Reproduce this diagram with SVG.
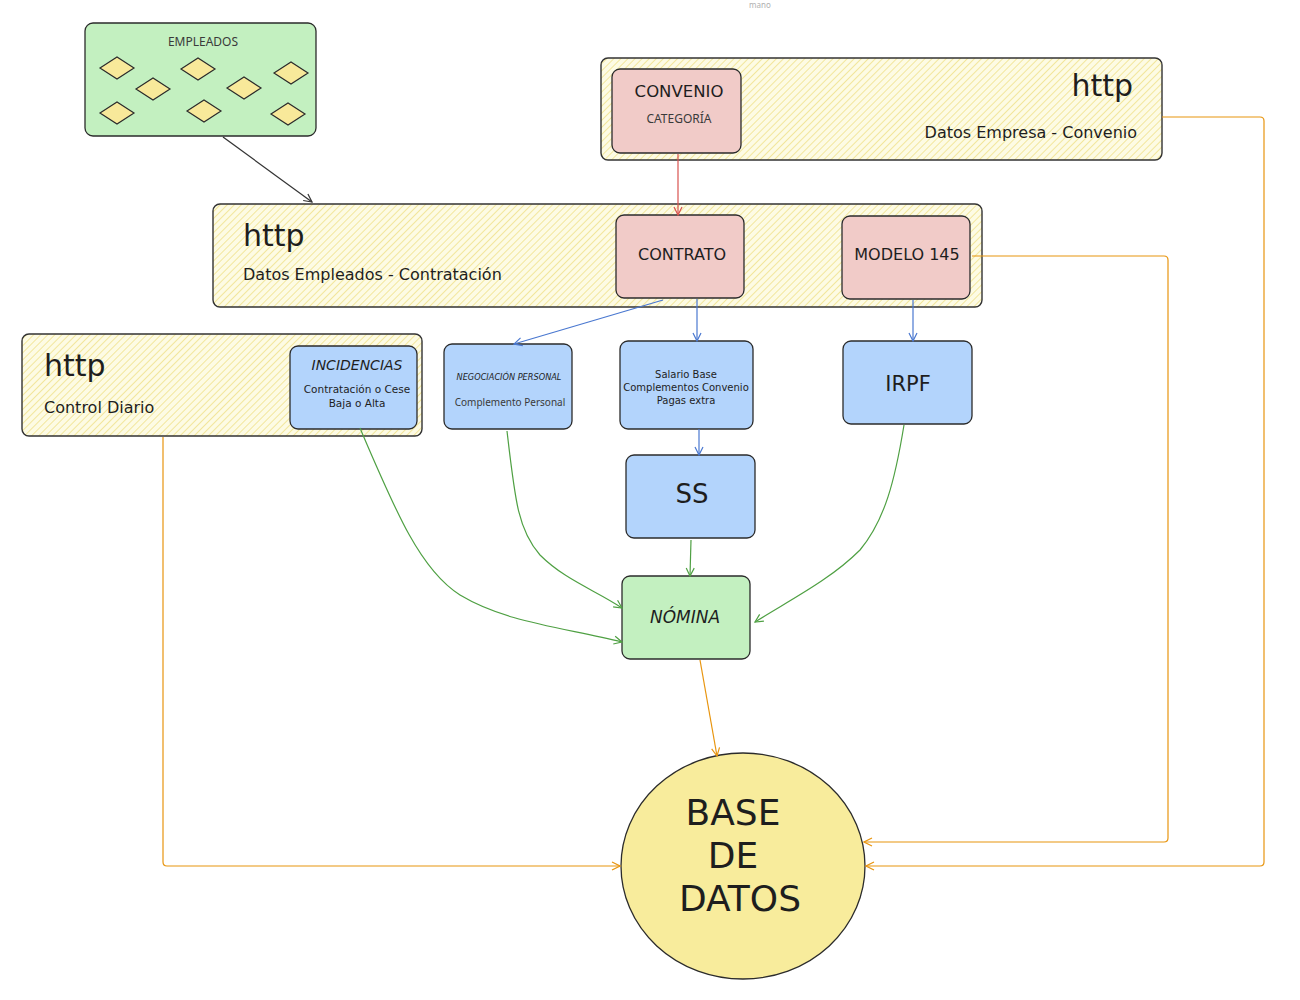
<svg xmlns="http://www.w3.org/2000/svg" width="1300" height="1000" viewBox="0 0 1300 1000">
<style>
.hand{font-family:"DejaVu Sans","Liberation Sans",sans-serif;fill:#1e1e1e}
.sans{font-family:"Noto Sans","Liberation Sans",sans-serif;fill:#3a3a3a}
.box{stroke:#2b2b2b;stroke-width:1.3}
.cont{fill:url(#hatch);stroke:#333;stroke-width:1.4}
.pink{fill:#f1cbc8}
.blue{fill:#b3d4fc}
.green{fill:#c3f0c0}
.dia{fill:#f8e99a;stroke:#2b2b2b;stroke-width:1.2}
.c{fill:none;stroke-width:1.2}
</style>
<defs>
<pattern id="hatch" patternUnits="userSpaceOnUse" width="5" height="5" patternTransform="rotate(45)">
<rect width="5" height="5" fill="#fdfbe4"/>
<line x1="0" y1="0" x2="0" y2="5" stroke="#f2e69c" stroke-width="2"/>
</pattern>
<marker id="aK" viewBox="0 0 10 10" refX="9" refY="5" markerWidth="10" markerHeight="10" orient="auto" markerUnits="userSpaceOnUse"><path d="M1,1 L9,5 L1,9" fill="none" stroke="#333" stroke-width="1.2"/></marker>
<marker id="aR" viewBox="0 0 10 10" refX="9" refY="5" markerWidth="10" markerHeight="10" orient="auto" markerUnits="userSpaceOnUse"><path d="M1,1 L9,5 L1,9" fill="none" stroke="#d9534f" stroke-width="1.2"/></marker>
<marker id="aB" viewBox="0 0 10 10" refX="9" refY="5" markerWidth="10" markerHeight="10" orient="auto" markerUnits="userSpaceOnUse"><path d="M1,1 L9,5 L1,9" fill="none" stroke="#4a78d0" stroke-width="1.2"/></marker>
<marker id="aG" viewBox="0 0 10 10" refX="9" refY="5" markerWidth="10" markerHeight="10" orient="auto" markerUnits="userSpaceOnUse"><path d="M1,1 L9,5 L1,9" fill="none" stroke="#4fa043" stroke-width="1.2"/></marker>
<marker id="aO" viewBox="0 0 10 10" refX="9" refY="5" markerWidth="10" markerHeight="10" orient="auto" markerUnits="userSpaceOnUse"><path d="M1,1 L9,5 L1,9" fill="none" stroke="#e8950f" stroke-width="1.2"/></marker>
</defs>
<rect width="1300" height="1000" fill="#ffffff"/>
<text x="760" y="8" font-family="Noto Sans, sans-serif" font-size="8" fill="#b0b0b0" text-anchor="middle">mano</text>

<g id="empleados">
<rect class="box green" x="85" y="23" width="231" height="113" rx="8"/>
<text class="sans" x="203" y="46" font-size="12" text-anchor="middle">EMPLEADOS</text>
<polygon class="dia" points="100,68 117,57 134,68 117,79"/>
<polygon class="dia" points="136,89 153,78 170,89 153,100"/>
<polygon class="dia" points="181,69 198,58 215,69 198,80"/>
<polygon class="dia" points="227,88 244,77 261,88 244,99"/>
<polygon class="dia" points="274,73 291,62 308,73 291,84"/>
<polygon class="dia" points="100,113 117,102 134,113 117,124"/>
<polygon class="dia" points="187,111 204,100 221,111 204,122"/>
<polygon class="dia" points="271,114 288,103 305,114 288,125"/>
</g>

<g id="datos-empresa">
<rect class="cont" x="601" y="58" width="561" height="102" rx="7"/>
<text class="hand" x="1133" y="96" font-size="30" text-anchor="end">http</text>
<text class="hand" x="1137" y="138" font-size="16" text-anchor="end">Datos Empresa - Convenio</text>
</g>
<g id="convenio">
<rect class="box pink" x="612" y="69" width="129" height="84" rx="8"/>
<text class="hand" x="679" y="97" font-size="16.5" text-anchor="middle">CONVENIO</text>
<text class="sans" x="679" y="123" font-size="12" text-anchor="middle">CATEGORÍA</text>
</g>

<g id="datos-empleados">
<rect class="cont" x="213" y="204" width="769" height="103" rx="7"/>
<text class="hand" x="243" y="246" font-size="30">http</text>
<text class="hand" x="243" y="280" font-size="16">Datos Empleados - Contratación</text>
</g>
<g id="contrato">
<rect class="box pink" x="616" y="215" width="128" height="83" rx="8"/>
<text class="hand" x="682" y="260" font-size="16" text-anchor="middle">CONTRATO</text>
</g>
<g id="modelo145">
<rect class="box pink" x="842" y="216" width="128" height="83" rx="8"/>
<text class="hand" x="907" y="260" font-size="16" text-anchor="middle">MODELO 145</text>
</g>

<g id="control-diario">
<rect class="cont" x="22" y="334" width="400" height="102" rx="7"/>
<text class="hand" x="44" y="376" font-size="30">http</text>
<text class="hand" x="44" y="413" font-size="16">Control Diario</text>
</g>
<g id="incidencias">
<rect class="box blue" x="290" y="346" width="127" height="83" rx="8"/>
<text class="hand" x="357" y="370" font-size="14" text-anchor="middle" font-style="italic">INCIDENCIAS</text>
<text class="hand" x="357" y="393" font-size="10.5" text-anchor="middle">Contratación o Cese</text>
<text class="hand" x="357" y="407" font-size="10.5" text-anchor="middle">Baja o Alta</text>
</g>

<g id="negociacion">
<rect class="box blue" x="444" y="344" width="128" height="85" rx="8"/>
<text class="hand" x="509" y="380" font-size="8.2" text-anchor="middle" font-style="italic">NEGOCIACIÓN PERSONAL</text>
<text class="sans" x="510" y="406" font-size="10" text-anchor="middle">Complemento Personal</text>
</g>
<g id="salario">
<rect class="box blue" x="620" y="341" width="133" height="88" rx="8"/>
<text class="hand" x="686" y="378" font-size="10" text-anchor="middle">Salario Base</text>
<text class="hand" x="686" y="391" font-size="10" text-anchor="middle">Complementos Convenio</text>
<text class="hand" x="686" y="404" font-size="10" text-anchor="middle">Pagas extra</text>
</g>
<g id="irpf">
<rect class="box blue" x="843" y="341" width="129" height="83" rx="8"/>
<text class="hand" x="908" y="391" font-size="21" text-anchor="middle">IRPF</text>
</g>
<g id="ss">
<rect class="box blue" x="626" y="455" width="129" height="83" rx="8"/>
<text class="hand" x="692" y="503" font-size="26" text-anchor="middle">SS</text>
</g>
<g id="nomina">
<rect class="box green" x="622" y="576" width="128" height="83" rx="8"/>
<text class="hand" x="685" y="623" font-size="17" text-anchor="middle" font-style="italic">NÓMINA</text>
</g>
<g id="base-datos">
<ellipse cx="743" cy="866" rx="122" ry="113" fill="#f8ec9c" stroke="#2b2b2b" stroke-width="1.3"/>
<text class="hand" x="733" y="825" font-size="36" text-anchor="middle">BASE</text>
<text class="hand" x="733" y="868" font-size="36" text-anchor="middle">DE</text>
<text class="hand" x="740" y="911" font-size="36" text-anchor="middle">DATOS</text>
</g>

<g id="connectors">
<path class="c" stroke="#333" d="M223,137 L312,202" marker-end="url(#aK)"/>
<path class="c" stroke="#d9534f" d="M678,154 L678,215" marker-end="url(#aR)"/>
<path class="c" stroke="#4a78d0" d="M663,300 L514,344" marker-end="url(#aB)"/>
<path class="c" stroke="#4a78d0" d="M697,299 L697,341" marker-end="url(#aB)"/>
<path class="c" stroke="#4a78d0" d="M913,300 L913,341" marker-end="url(#aB)"/>
<path class="c" stroke="#4a78d0" d="M699,429 L699,455" marker-end="url(#aB)"/>
<path class="c" stroke="#4fa043" d="M691,540 L690,576" marker-end="url(#aG)"/>
<path class="c" stroke="#4fa043" d="M360,428 C395,510 420,570 460,595 C505,622 560,627 622,642" marker-end="url(#aG)"/>
<path class="c" stroke="#4fa043" d="M507,431 C515,500 518,530 540,555 C565,580 595,590 622,608" marker-end="url(#aG)"/>
<path class="c" stroke="#4fa043" d="M904,425 C895,480 885,520 860,550 C830,580 790,600 755,622" marker-end="url(#aG)"/>
<path class="c" stroke="#e8950f" d="M700,660 L717,756" marker-end="url(#aO)"/>
<path class="c" stroke="#e8950f" d="M163,437 L163,862 Q163,866 167,866 L620,866" marker-end="url(#aO)"/>
<path class="c" stroke="#e8950f" d="M972,256 L1164,256 Q1168,256 1168,260 L1168,838 Q1168,842 1164,842 L864,842" marker-end="url(#aO)"/>
<path class="c" stroke="#e8950f" d="M1162,117 L1260,117 Q1264,117 1264,121 L1264,862 Q1264,866 1260,866 L866,866" marker-end="url(#aO)"/>
</g>
</svg>
